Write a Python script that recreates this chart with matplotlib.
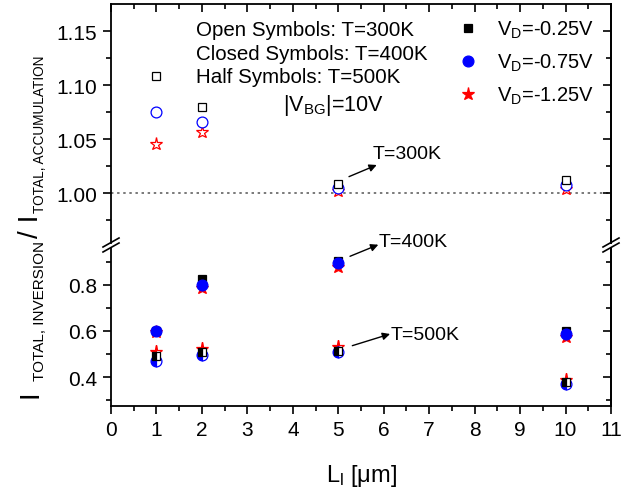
import matplotlib
matplotlib.use('Agg')
import matplotlib.pyplot as plt
from matplotlib.lines import Line2D
from matplotlib.ticker import FixedLocator, FormatStrFormatter

plt.rcParams['font.family'] = ['Liberation Sans', 'DejaVu Sans']
plt.rcParams['mathtext.fontset'] = 'custom'
plt.rcParams['mathtext.rm'] = 'Liberation Sans'
plt.rcParams['mathtext.it'] = 'Liberation Sans:italic'

# ---------------- data ----------------
L_um = [1, 2, 5, 10]
# T = 300 K (open symbols), accumulation ratio
sq300 = [1.109, 1.080, 1.009, 1.012]
ci300 = [1.075, 1.066, 1.005, 1.008]
st300 = [1.046, 1.057, 1.002, 1.004]
# T = 400 K (closed symbols)
sq400 = [0.600, 0.825, 0.901, 0.600]
ci400 = [0.598, 0.799, 0.892, 0.588]
st400 = [0.596, 0.785, 0.878, 0.574]
# T = 500 K (half symbols)
sq500 = [0.493, 0.508, 0.512, 0.378]
ci500 = [0.472, 0.498, 0.510, 0.371]
st500 = [0.508, 0.522, 0.530, 0.388]

vd_labels = [r'V$_\mathregular{D}$=-0.25V', r'V$_\mathregular{D}$=-0.75V', r'V$_\mathregular{D}$=-1.25V']
x_ticks = list(range(0, 12))
top_major = [1.00, 1.05, 1.10, 1.15]
top_minor = [0.975, 1.025, 1.075, 1.125]
bot_major = [0.4, 0.6, 0.8]
bot_minor = [0.3, 0.5, 0.7, 0.9]

# ---------------- figure ----------------
W, H = 634, 489
fig = plt.figure(figsize=(W / 100, H / 100), dpi=100)

def fx(px):
    return px / W

def fy(py):
    return 1 - py / H

left, right = 111, 611
top, brk_hi, brk_lo, bottom = 5, 243.5, 248.5, 406.5

ax_t = fig.add_axes([fx(left), fy(brk_hi), fx(right) - fx(left), fy(top) - fy(brk_hi)])
ax_b = fig.add_axes([fx(left), fy(bottom), fx(right) - fx(left), fy(brk_lo) - fy(bottom)])

ax_t.set_ylim(0.9544, 1.1753)
ax_b.set_ylim(0.278, 0.9607)
for ax in (ax_t, ax_b):
    ax.set_xlim(0, 11)
    for s in ax.spines.values():
        s.set_linewidth(1.3)

ax_t.spines['bottom'].set_visible(False)
ax_b.spines['top'].set_visible(False)

BLK, BLU, RED = 'black', '#0000ff', '#ff0000'
mk = dict(sq=('s', 6.3), ci=('o', 7.8), st=('*', 9.5))

def draw(ax, y, key, color, style):
    m, ms = mk[key]
    kw = dict(ls='none', marker=m, markersize=ms, markeredgecolor=color, markeredgewidth=0.9)
    if style == 'open':
        kw.update(markerfacecolor='white')
    elif style == 'closed':
        kw.update(markerfacecolor=color)
    else:
        kw.update(markerfacecolor=color, fillstyle='left', markerfacecoloralt='white')
    return ax.plot(L_um, y, clip_on=False, **kw)[0]

# open (300K)
draw(ax_t, st300, 'st', RED, 'open')
draw(ax_t, ci300, 'ci', BLU, 'open')
draw(ax_t, sq300, 'sq', BLK, 'open')
# closed (400K)
h_st = draw(ax_b, st400, 'st', RED, 'closed')
h_sq = draw(ax_b, sq400, 'sq', BLK, 'closed')
h_ci = draw(ax_b, ci400, 'ci', BLU, 'closed')
# half (500K)
draw(ax_b, st500, 'st', RED, 'half')
draw(ax_b, ci500, 'ci', BLU, 'half')
draw(ax_b, sq500, 'sq', BLK, 'half')

ax_t.axhline(1.0, color='#555555', lw=1.1, ls=(0, (1.6, 2.4)), zorder=0)

# ---------------- ticks ----------------
TL, TLm, TW = 5.8, 3.3, 1.2
ax_t.xaxis.set_major_locator(FixedLocator(x_ticks))
ax_t.xaxis.set_minor_locator(FixedLocator([t + 0.5 for t in x_ticks[:-1]]))
ax_b.xaxis.set_major_locator(FixedLocator(x_ticks))
ax_b.xaxis.set_minor_locator(FixedLocator([t + 0.5 for t in x_ticks[:-1]]))
ax_t.tick_params(axis='x', which='both', top=True, bottom=False, labelbottom=False,
                 labeltop=False, direction='in', width=TW)
ax_t.tick_params(axis='x', which='major', length=TL)
ax_t.tick_params(axis='x', which='minor', length=TLm)
ax_b.tick_params(axis='x', which='both', top=False, bottom=True, direction='out', width=TW,
                 labelsize=15, pad=5)
ax_b.tick_params(axis='x', which='major', length=TL)
ax_b.tick_params(axis='x', which='minor', length=TLm)

ax_t.yaxis.set_major_locator(FixedLocator(top_major))
ax_t.yaxis.set_minor_locator(FixedLocator(top_minor))
ax_t.yaxis.set_major_formatter(FormatStrFormatter('%.2f'))
ax_b.yaxis.set_major_locator(FixedLocator(bot_major))
ax_b.yaxis.set_minor_locator(FixedLocator(bot_minor))
ax_b.yaxis.set_major_formatter(FormatStrFormatter('%.1f'))

for ax, maj, mnr in ((ax_t, top_major, top_minor), (ax_b, bot_major, bot_minor)):
    ax.tick_params(axis='y', which='both', left=True, right=False, direction='out', width=TW,
                   labelsize=15, pad=4)
    ax.tick_params(axis='y', which='major', length=TL)
    ax.tick_params(axis='y', which='minor', length=TLm)
    sec = ax.secondary_yaxis('right')
    sec.yaxis.set_major_locator(FixedLocator(maj))
    sec.yaxis.set_minor_locator(FixedLocator(mnr))
    sec.tick_params(axis='y', which='both', direction='in', width=TW, labelright=False)
    sec.tick_params(axis='y', which='major', length=TL)
    sec.tick_params(axis='y', which='minor', length=TLm)
    sec.spines['right'].set_linewidth(1.3)

# ---------------- break marks ----------------
for xs in (left, right):
    for ys in (brk_hi, brk_lo):
        fig.add_artist(Line2D([fx(xs - 8), fx(xs + 8)], [fy(ys + 4.5), fy(ys - 4.5)],
                              color='black', lw=1.2, transform=fig.transFigure))

# ---------------- texts ----------------
fig.text(fx(196), fy(36), 'Open Symbols: T=300K', fontsize=14.8, ha='left', va='baseline')
fig.text(fx(196), fy(59.5), 'Closed Symbols: T=400K', fontsize=14.8, ha='left', va='baseline')
fig.text(fx(196), fy(83), 'Half Symbols: T=500K', fontsize=14.8, ha='left', va='baseline')
fig.text(fx(283), fy(111.5), r'|V$_\mathregular{BG}$|=10V', fontsize=15.5, ha='left', va='baseline')

fig.text(fx(373), fy(159.3), 'T=300K', fontsize=14, ha='left', va='baseline')
fig.text(fx(379), fy(247.3), 'T=400K', fontsize=14, ha='left', va='baseline')
fig.text(fx(391), fy(340), 'T=500K', fontsize=14, ha='left', va='baseline')

arw = dict(arrowstyle='-|>', color='black', lw=1.0, mutation_scale=11, shrinkA=0, shrinkB=0)
ax_t.annotate('', xy=(5.846, 1.0262), xytext=(5.236, 1.0154), arrowprops=arw, annotation_clip=False)
ax_b.annotate('', xy=(5.881, 0.9728), xytext=(5.258, 0.9227), arrowprops=arw, annotation_clip=False)
ax_b.annotate('', xy=(6.139, 0.587), xytext=(5.309, 0.5365), arrowprops=arw, annotation_clip=False)

# legend
ax_t.legend(handles=[h_sq, h_ci, h_st], labels=vd_labels, loc='upper left',
            bbox_to_anchor=(fx(457.5), fy(20)), bbox_transform=fig.transFigure,
            frameon=False, fontsize=14.5, handlelength=1.0, handletextpad=0.95,
            labelspacing=0.58, borderpad=0, borderaxespad=0, numpoints=1)

# x label
fig.text(fx(361), fy(482), r'L$_\mathregular{l}$ [μm]', fontsize=17, ha='center', va='baseline')

# y label built from pieces (large I, small subscripts)
fig.canvas.draw()
renderer = fig.canvas.get_renderer()
pieces = [('I', 20, 38, 0), ('TOTAL, INVERSION', 11, 44, 8), ('/', 20, 38, 2), (' I', 20, 38, 0),
          ('TOTAL, ACCUMULATION', 9.8, 44, 0)]
ypos = H - 398
for txt, size, bx, gap in pieces:
    ypos += gap
    t = fig.text(bx / W, ypos / H, txt, fontsize=size, rotation=90, rotation_mode='anchor',
                 ha='left', va='baseline')
    bb = t.get_window_extent(renderer)
    ypos = bb.y1 + 1

fig.savefig('out.png', dpi=100)
